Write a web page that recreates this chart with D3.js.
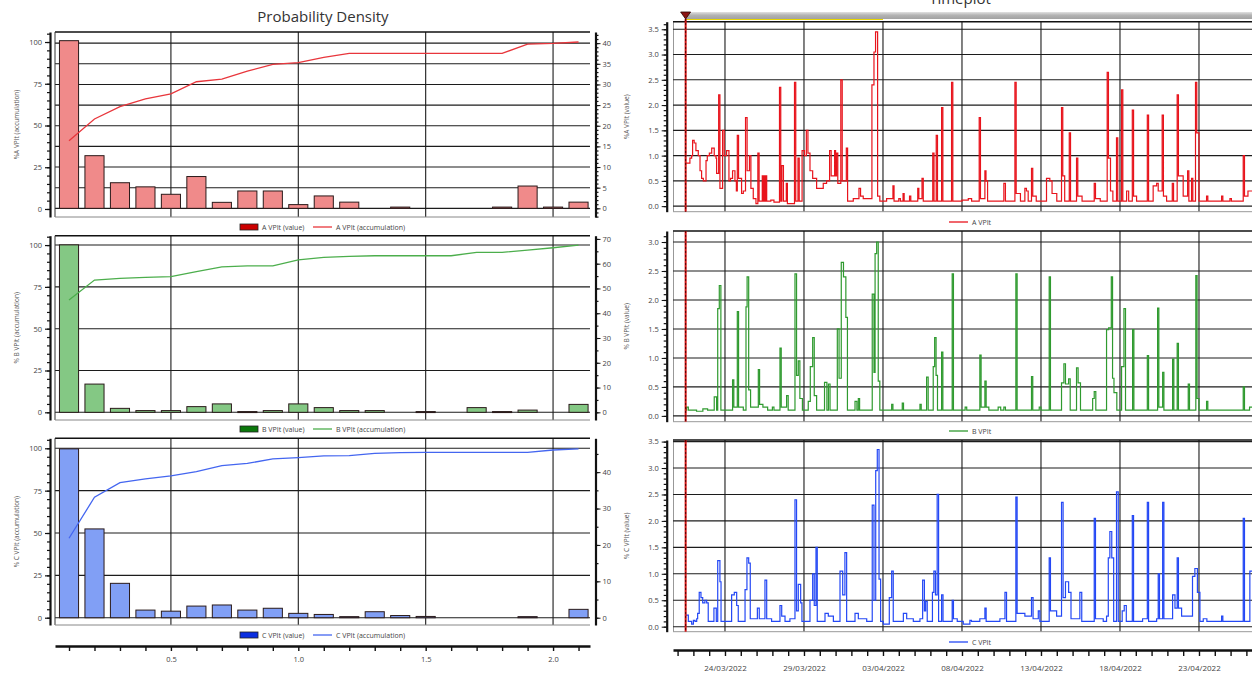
<!DOCTYPE html>
<html>
<head>
<meta charset="utf-8">
<script src="https://cdn.jsdelivr.net/npm/d3@7"></script>
<style>
  body { margin: 0; background: #fff; }
  text { font-family: "Open Sans", "DejaVu Sans", sans-serif; }
</style>
</head>
<body>
<div id="chart"></div>
<script>
// ---- probability density data (bin centre, % value, % accumulation)
var binCenters = [0.1, 0.2, 0.3, 0.4, 0.5, 0.6, 0.7, 0.8, 0.9, 1.0, 1.1, 1.2, 1.3, 1.4, 1.5, 1.6, 1.7, 1.8, 1.9, 2.0, 2.1];
var aValue = [40.6, 12.75, 6.2, 5.2, 3.4, 7.7, 1.45, 4.2, 4.2, 0.9, 3.0, 1.5, 0, 0.3, 0, 0, 0, 0.3, 5.4, 0.3, 1.5];
var aAccum = [40.9, 53.9, 61.3, 65.9, 68.9, 76.2, 77.8, 82.6, 86.6, 87.6, 90.8, 93.2, 93.2, 93.2, 93.2, 93.2, 93.2, 93.2, 98.8, 99.2, 100];
var bValue = [67.6, 11.4, 1.6, 0.7, 0.7, 2.3, 3.4, 0.3, 0.7, 3.4, 1.9, 0.7, 0.7, 0, 0.3, 0, 1.9, 0.3, 0.9, 0, 3.2];
var bAccum = [67.1, 79.1, 80.1, 80.7, 81.1, 84.1, 87.0, 87.5, 87.5, 91.2, 92.6, 93.2, 93.6, 93.6, 93.6, 93.6, 95.6, 95.6, 97.0, 98.4, 100];
var cValue = [46.4, 24.4, 9.45, 2.1, 1.8, 3.2, 3.5, 2.1, 2.6, 1.2, 0.9, 0.3, 1.65, 0.6, 0.35, 0, 0, 0, 0.3, 0, 2.3];
var cAccum = [46.9, 71.1, 79.7, 81.9, 83.7, 86.2, 89.8, 91.1, 93.7, 94.5, 95.5, 95.7, 97.0, 97.4, 97.6, 97.6, 97.6, 97.6, 97.6, 99.0, 99.6];
var densityTickLabels = [0.5, 1.0, 1.5, 2.0];
var accumTicks = [0, 25, 50, 75, 100];

// ---- timeplot data: [days since 21/03/2022 00:00, % value]
var seriesA = [[0.51,0.85],[0.78,0.95],[0.89,1.0],[0.95,1.3],[1.05,1.25],[1.16,1.1],[1.31,1.0],[1.42,0.7],[1.52,0.55],[1.63,0.5],[1.80,0.9],[1.88,1.0],[2.01,1.05],[2.16,1.15],[2.32,1.0],[2.43,0.95],[2.47,0.65],[2.60,2.2],[2.68,0.35],[2.85,1.5],[2.95,1.0],[3.10,1.1],[3.25,0.5],[3.35,0.55],[3.48,0.7],[3.63,0.5],[3.72,0.3],[3.78,1.4],[3.86,0.55],[4.05,0.25],[4.16,0.3],[4.30,1.75],[4.40,0.7],[4.55,1.0],[4.64,0.35],[4.79,0.15],[4.96,0.05],[5.08,1.05],[5.16,0.1],[5.36,0.6],[5.42,0.1],[5.47,0.6],[5.53,0.1],[5.58,0.6],[5.64,0.1],[5.9,0.12],[6.1,0.08],[6.45,2.35],[6.53,0.1],[6.60,0.8],[6.70,0.1],[6.88,0.45],[6.95,0.05],[7.40,2.45],[7.48,0.1],[7.62,0.95],[7.70,0.1],[7.88,1.1],[8.03,1.0],[8.15,1.5],[8.25,1.05],[8.38,0.7],[8.55,0.55],[8.80,0.35],[9.22,0.45],[9.43,0.5],[9.62,1.1],[9.72,0.6],[9.94,1.1],[10.0,0.6],[10.06,1.05],[10.14,0.45],[10.33,2.5],[10.42,0.5],[10.68,1.15],[10.76,0.1],[11.12,0.15],[11.48,0.35],[11.58,0.2],[11.75,0.15],[12.30,2.4],[12.43,3.05],[12.53,3.45],[12.66,0.2],[12.80,0.1],[13.23,0.15],[13.63,0.4],[13.70,0.1],[14.0,0.15],[14.1,0.1],[14.27,0.25],[14.34,0.1],[14.68,0.2],[14.76,0.1],[15.2,0.35],[15.27,0.15],[15.47,0.55],[15.55,0.1],[16.15,1.05],[16.23,0.1],[16.37,1.4],[16.45,0.1],[16.71,1.95],[16.79,0.1],[17.34,2.45],[17.42,0.1],[18.0,0.12],[18.40,0.15],[18.61,0.1],[19.09,1.75],[19.17,0.15],[19.45,0.7],[19.52,0.5],[19.62,0.1],[20.65,0.45],[20.75,0.1],[21.35,2.45],[21.43,0.25],[21.70,0.1],[21.98,0.35],[22.08,0.3],[22.19,0.1],[22.40,0.75],[22.48,0.2],[22.70,0.1],[23.35,0.55],[23.56,0.5],[23.70,0.25],[24.00,0.1],[24.30,1.95],[24.38,0.6],[24.50,0.1],[24.79,1.45],[24.87,0.1],[25.25,0.95],[25.33,0.2],[25.60,0.1],[26.37,0.45],[26.45,0.15],[26.75,0.1],[27.19,2.65],[27.27,0.95],[27.40,0.3],[27.55,0.1],[27.78,1.35],[27.86,0.1],[28.10,2.3],[28.18,0.1],[28.42,0.3],[28.55,0.1],[28.78,1.9],[28.86,0.2],[29.05,0.1],[29.73,1.8],[29.81,0.1],[30.10,0.4],[30.32,0.45],[30.42,0.3],[30.67,1.8],[30.75,0.2],[30.95,0.1],[31.31,0.45],[31.39,0.1],[31.62,2.2],[31.70,0.6],[32.00,0.2],[32.28,0.7],[32.36,0.1],[32.53,0.55],[32.61,0.1],[32.78,2.45],[32.86,1.45],[33.00,0.1],[33.48,0.2],[33.56,0.1],[34.43,0.2],[34.51,0.1],[34.96,0.15],[35.05,0.1],[35.80,1.0],[35.88,0.2],[36.10,0.3],[36.4,0.2],[37.0,0.2]];

var seriesB = [[0.51,0.1],[0.57,0.15],[0.68,0.1],[1.2,0.08],[1.6,0.12],[1.9,0.1],[2.32,0.33],[2.47,0.1],[2.54,1.85],[2.64,2.25],[2.74,0.1],[3.48,0.62],[3.56,0.15],[3.78,1.8],[3.86,0.15],[4.16,0.1],[4.33,1.88],[4.40,2.4],[4.50,0.45],[4.62,0.15],[5.11,0.8],[5.19,0.2],[5.40,0.15],[5.7,0.1],[6.0,0.15],[6.1,0.1],[6.48,1.17],[6.56,0.15],[6.90,0.35],[7.0,0.1],[7.43,2.45],[7.53,0.7],[7.64,0.95],[7.74,0.3],[7.90,0.1],[8.27,0.25],[8.40,0.85],[8.55,1.35],[8.65,0.35],[8.80,0.1],[9.30,0.58],[9.45,0.1],[9.55,0.55],[9.65,0.1],[10.11,1.5],[10.22,0.65],[10.36,2.65],[10.50,2.4],[10.65,1.7],[10.75,0.1],[11.23,0.25],[11.35,0.1],[11.44,0.3],[11.52,0.1],[12.32,2.1],[12.43,0.75],[12.50,2.8],[12.60,3.0],[12.70,0.6],[12.80,0.1],[13.55,0.2],[13.63,0.1],[14.22,0.22],[14.30,0.1],[15.34,0.2],[15.42,0.1],[15.76,0.67],[15.86,0.1],[16.18,0.85],[16.27,1.35],[16.36,0.7],[16.45,0.1],[16.71,1.1],[16.79,0.1],[17.38,2.45],[17.46,0.1],[18.2,0.15],[18.3,0.1],[19.13,1.05],[19.21,0.15],[19.45,0.6],[19.53,0.15],[19.7,0.1],[20.29,0.15],[20.45,0.1],[20.65,0.15],[20.75,0.1],[21.41,2.45],[21.49,0.1],[22.40,0.68],[22.48,0.1],[22.89,0.15],[23.0,0.1],[23.52,2.4],[23.60,0.1],[24.30,0.57],[24.45,0.9],[24.55,0.55],[24.75,0.64],[24.85,0.1],[25.25,0.83],[25.35,0.57],[25.50,0.1],[26.27,0.3],[26.37,0.42],[26.47,0.1],[27.15,1.49],[27.28,1.52],[27.45,2.4],[27.53,0.65],[27.62,0.4],[27.80,0.1],[28.10,0.85],[28.25,1.85],[28.35,0.1],[28.80,1.49],[28.88,0.1],[29.73,1.04],[29.81,0.1],[30.38,1.86],[30.46,0.15],[30.70,0.75],[30.78,0.1],[31.33,0.98],[31.41,0.1],[31.62,1.25],[31.70,0.1],[32.32,0.55],[32.40,0.1],[32.80,2.42],[32.88,0.3],[33.0,0.1],[33.48,0.25],[33.56,0.1],[35.80,0.5],[35.88,0.1],[36.2,0.15],[36.4,0.1],[37.0,0.1]];

var seriesC = [[0.51,0.22],[0.68,0.1],[0.89,0.05],[1.0,0.12],[1.10,0.1],[1.21,0.15],[1.27,0.25],[1.37,0.65],[1.48,0.55],[1.59,0.45],[1.73,0.5],[1.84,0.45],[1.94,0.1],[2.30,0.35],[2.45,0.1],[2.54,1.25],[2.68,0.85],[2.75,0.1],[3.42,0.6],[3.59,0.65],[3.74,0.4],[3.84,0.1],[4.27,0.7],[4.39,1.3],[4.50,1.2],[4.60,0.15],[5.05,0.35],[5.17,0.15],[5.53,0.88],[5.64,0.15],[5.95,0.1],[6.48,0.4],[6.59,0.2],[6.80,0.1],[7.11,0.15],[7.43,2.4],[7.53,0.3],[7.64,0.8],[7.79,0.45],[7.87,0.1],[8.38,0.5],[8.55,1.0],[8.65,0.4],[8.76,1.5],[8.84,0.1],[9.33,0.25],[9.54,0.2],[9.86,0.1],[10.28,1.05],[10.45,0.6],[10.59,1.4],[10.70,0.1],[11.23,0.25],[11.44,0.15],[11.97,0.1],[12.32,2.3],[12.43,0.5],[12.54,2.95],[12.64,3.35],[12.75,0.9],[12.85,0.1],[13.02,0.05],[13.40,0.55],[13.55,1.05],[13.65,0.1],[14.29,0.25],[14.50,0.15],[14.92,0.1],[15.34,0.15],[15.51,0.88],[15.62,0.3],[15.70,0.48],[15.80,0.1],[16.13,0.65],[16.22,1.05],[16.32,0.6],[16.43,2.5],[16.52,0.1],[16.71,0.6],[16.80,0.1],[17.38,0.5],[17.46,0.15],[17.7,0.1],[18.08,0.05],[18.50,0.12],[18.6,0.1],[19.13,0.15],[19.45,0.35],[19.53,0.1],[20.40,0.15],[20.72,0.65],[20.82,0.1],[21.41,2.45],[21.49,0.25],[21.98,0.2],[22.40,0.55],[22.50,0.15],[22.83,0.3],[22.93,0.1],[23.52,1.3],[23.60,0.3],[23.99,0.2],[24.30,2.35],[24.40,0.55],[24.55,0.85],[24.75,0.65],[24.90,0.15],[25.46,0.65],[25.58,0.1],[26.37,2.05],[26.45,0.15],[26.94,0.1],[27.15,0.2],[27.26,1.3],[27.36,1.8],[27.48,1.3],[27.60,0.1],[27.78,2.55],[27.89,0.1],[28.14,0.3],[28.27,0.4],[28.40,0.1],[28.78,2.1],[28.86,0.1],[29.43,0.15],[29.73,2.35],[29.81,0.1],[30.32,0.15],[30.42,1.0],[30.50,0.15],[30.70,2.35],[30.78,0.15],[31.33,0.6],[31.48,0.35],[31.62,1.3],[31.70,0.35],[31.90,0.2],[32.32,0.2],[32.59,0.95],[32.74,1.1],[32.90,0.65],[33.06,0.1],[33.27,0.15],[33.5,0.1],[34.43,0.2],[34.51,0.1],[35.80,2.05],[35.88,0.1],[36.22,1.05],[36.4,0.3],[37.0,0.3]];

var dateLabels = ["24/03/2022", "29/03/2022", "03/04/2022", "08/04/2022", "13/04/2022", "18/04/2022", "23/04/2022"];
var markerDay = 0.51;

// ---- layout
var svgWidth = 1252;
var svgHeight = 675;

var svg = d3.select("#chart")
  .append("svg")
  .attr("width", svgWidth)
  .attr("height", svgHeight);

var gridColor = "#1c1c1c";

function styleAxis(g, fontSize) {
  g.selectAll("text").style("font-size", fontSize + "px").attr("fill", "#444");
  g.selectAll(".tick line").attr("stroke", "#111");
  g.select(".domain").attr("stroke", "#111");
}

// ================= Probability Density =================
svg.append("text")
  .attr("x", 323).attr("y", 22)
  .attr("text-anchor", "middle")
  .style("font-size", "15px")
  .attr("fill", "#333")
  .text("Probability Density");

var xBin = d3.scaleLinear().domain([0.045, 2.145]).range([55, 590]);
var barW = xBin(0.075) - xBin(0);

var densityPanels = [
  { name: "A VPIt", values: aValue, accum: aAccum, top: 32, bottom: 217,
    leftDomain: [-4.8, 106], rightDomain: [-2.1, 42.7], rightMajor: 5, rightMinor: 1, rightMax: 40,
    gridOnRight: true, fill: "#f08a8a", line: "#e8363c", key: "#cc0000",
    legendY: 227, label: "%A VPIt (accumulation)" },
  { name: "B VPIt", values: bValue, accum: bAccum, top: 235.7, bottom: 420,
    leftDomain: [-4.6, 105.6], rightDomain: [-3.1, 71.3], rightMajor: 10, rightMinor: 5, rightMax: 70,
    gridOnRight: false, fill: "#84c884", line: "#4cae4c", key: "#0b780b",
    legendY: 429, label: "% B VPIt (accumulation)" },
  { name: "C VPIt", values: cValue, accum: cAccum, top: 438.3, bottom: 625,
    leftDomain: [-4.3, 105.9], rightDomain: [-2.0, 49.3], rightMajor: 10, rightMinor: 5, rightMax: 45,
    gridOnRight: false, fill: "#819ff5", line: "#4466f0", key: "#0a2ee0",
    legendY: 635, label: "% C VPIt (accumulation)" }
];

densityPanels.forEach(function(p) {
  var yL = d3.scaleLinear().domain(p.leftDomain).range([p.bottom, p.top]);
  var yR = d3.scaleLinear().domain(p.rightDomain).range([p.bottom, p.top]);
  var g = svg.append("g");

  // horizontal grid
  var gridVals = p.gridOnRight ? d3.range(0, p.rightMax + 0.01, p.rightMajor).map(yR) : accumTicks.map(yL);
  g.selectAll("line.hgrid").data(gridVals).enter().append("line")
    .attr("x1", 55).attr("x2", 590)
    .attr("y1", d => d).attr("y2", d => d)
    .attr("stroke", gridColor).attr("stroke-width", 1.1);

  // vertical grid
  g.selectAll("line.vgrid").data(densityTickLabels).enter().append("line")
    .attr("x1", d => xBin(d)).attr("x2", d => xBin(d))
    .attr("y1", p.top).attr("y2", p.bottom)
    .attr("stroke", gridColor).attr("stroke-width", 1.1);

  // frame
  g.append("line").attr("x1", 55).attr("x2", 590).attr("y1", p.top).attr("y2", p.top)
    .attr("stroke", "#111").attr("stroke-width", 1.6);
  g.append("line").attr("x1", 55).attr("x2", 55).attr("y1", p.top).attr("y2", p.bottom)
    .attr("stroke", "#333").attr("stroke-width", 1);
  g.append("line").attr("x1", 55).attr("x2", 590).attr("y1", p.bottom).attr("y2", p.bottom)
    .attr("stroke", "#888").attr("stroke-width", 1);

  // bars (value, right axis)
  var bins = binCenters.map(function(c, i) { return { c: c, v: p.values[i], a: p.accum[i] }; });
  g.selectAll("rect.bar").data(bins.filter(d => d.v > 0)).enter().append("rect")
    .attr("x", d => xBin(d.c) - barW / 2)
    .attr("width", barW)
    .attr("y", d => yR(d.v))
    .attr("height", d => Math.max(yR(0) - yR(d.v), 1))
    .attr("fill", p.fill)
    .attr("stroke", "#2a1a1a").attr("stroke-width", 1);

  // accumulation line (left axis)
  var accLine = d3.line().x(d => xBin(d.c)).y(d => yL(d.a));
  g.append("path").datum(bins)
    .attr("d", accLine)
    .attr("fill", "none").attr("stroke", p.line).attr("stroke-width", 1.3);

  // left axis
  var leftMinor = d3.range(Math.ceil(p.leftDomain[0] / 5) * 5, p.leftDomain[1], 5);
  var lm = g.append("g").attr("transform", "translate(50,0)")
    .call(d3.axisLeft(yL).tickValues(leftMinor).tickSize(3).tickSizeOuter(0).tickFormat(""));
  lm.select(".domain").attr("stroke", "#111").attr("stroke-width", 2.2);
  lm.selectAll(".tick line").attr("stroke", "#111").attr("stroke-width", 1.2);
  var la = g.append("g").attr("transform", "translate(50,0)")
    .call(d3.axisLeft(yL).tickValues(accumTicks).tickSize(5).tickSizeOuter(0).tickPadding(3));
  la.select(".domain").remove();
  styleAxis(la, 7.5);
  la.selectAll(".tick line").attr("stroke-width", 1.2);

  // right axis
  var rightMinor = d3.range(Math.ceil(p.rightDomain[0] / p.rightMinor) * p.rightMinor, p.rightDomain[1], p.rightMinor);
  var rm = g.append("g").attr("transform", "translate(595.5,0)")
    .call(d3.axisRight(yR).tickValues(rightMinor).tickSize(3).tickSizeOuter(0).tickFormat(""));
  rm.select(".domain").attr("stroke", "#111").attr("stroke-width", 2.2);
  rm.selectAll(".tick line").attr("stroke", "#111").attr("stroke-width", 1.2);
  var ra = g.append("g").attr("transform", "translate(595.5,0)")
    .call(d3.axisRight(yR).tickValues(d3.range(0, p.rightMax + 0.01, p.rightMajor)).tickSize(5).tickSizeOuter(0).tickPadding(2));
  ra.select(".domain").remove();
  styleAxis(ra, 7.5);

  // axis label
  g.append("text")
    .attr("transform", "translate(19," + ((p.top + p.bottom) / 2) + ") rotate(-90)")
    .attr("text-anchor", "middle")
    .style("font-size", "6.5px").attr("fill", "#555")
    .text(p.label);

  // legend
  var lg = g.append("g").attr("transform", "translate(0," + p.legendY + ")");
  lg.append("rect").attr("x", 240).attr("y", -3).attr("width", 18).attr("height", 6)
    .attr("fill", p.key).attr("stroke", "#222").attr("stroke-width", 0.8);
  lg.append("text").attr("x", 262).attr("y", 2.5).style("font-size", "7px").attr("fill", "#444")
    .text(p.name + " (value)");
  lg.append("line").attr("x1", 313).attr("x2", 332).attr("y1", 0).attr("y2", 0)
    .attr("stroke", p.line).attr("stroke-width", 1.3);
  lg.append("text").attr("x", 336).attr("y", 2.5).style("font-size", "7px").attr("fill", "#444")
    .text(p.name + " (accumulation)");
});

// shared x axis of the density panels
var binAxis = svg.append("g").attr("transform", "translate(0,646)")
  .call(d3.axisBottom(xBin).tickValues(binCenters).tickSize(5).tickSizeOuter(0).tickPadding(6)
    .tickFormat(function(d) {
      return densityTickLabels.some(t => Math.abs(t - d) < 1e-6) ? d3.format(".1f")(d) : "";
    }));
binAxis.select(".domain").attr("stroke", "#111").attr("stroke-width", 2.4);
binAxis.selectAll(".tick line").attr("stroke", "#111").attr("stroke-width", 1.4);
styleAxis(binAxis, 7.5);
binAxis.select(".domain").attr("stroke-width", 2.4);

// ================= Timeplot =================
var t0 = Date.UTC(2022, 2, 21);
function dayToDate(d) { return new Date(t0 + d * 864e5); }
var parseLabel = d3.utcParse("%d/%m/%Y");
var fmtLabel = d3.utcFormat("%d/%m/%Y");

var xTime = d3.scaleUtc()
  .domain([dayToDate(-0.29), dayToDate(37)])
  .range([673, 673 + 37.29 * 15.8]);
var labelDates = dateLabels.map(parseLabel);

svg.append("text")
  .attr("x", 960).attr("y", 4)
  .attr("text-anchor", "middle")
  .style("font-size", "15px")
  .attr("fill", "#333")
  .text("Timeplot");

// scroll bar on top
var defs = svg.append("defs");
var grad = defs.append("linearGradient").attr("id", "scrollGrad").attr("x1", 0).attr("y1", 0).attr("x2", 0).attr("y2", 1);
grad.append("stop").attr("offset", "0%").attr("stop-color", "#e2e2e2");
grad.append("stop").attr("offset", "45%").attr("stop-color", "#b4b4b4");
grad.append("stop").attr("offset", "100%").attr("stop-color", "#a2a2a2");
var markerX = xTime(dayToDate(markerDay));
svg.append("rect").attr("x", markerX).attr("y", 12).attr("width", svgWidth - markerX).attr("height", 7)
  .attr("fill", "url(#scrollGrad)");
svg.append("line").attr("x1", markerX).attr("x2", 883).attr("y1", 19.5).attr("y2", 19.5)
  .attr("stroke", "#e8d600").attr("stroke-width", 1);

var clip = defs.append("clipPath").attr("id", "timeClip");
clip.append("rect").attr("x", 673).attr("y", 0).attr("width", svgWidth - 673).attr("height", svgHeight);

var timePanels = [
  { data: seriesA, top: 21.7, bottom: 211.7, domain: [-0.11, 3.65], max: 3.5, color: "#e8141c",
    name: "A VPIt", label: "%A VPIt (value)", legendY: 222 },
  { data: seriesB, top: 231, bottom: 421.7, domain: [-0.1, 3.19], max: 3.0, color: "#2f9a2f",
    name: "B VPIt", label: "% B VPIt (value)", legendY: 431 },
  { data: seriesC, top: 440, bottom: 631.7, domain: [-0.095, 3.53], max: 3.5, color: "#2448f5",
    name: "C VPIt", label: "% C VPIt (value)", legendY: 642 }
];

timePanels.forEach(function(p, pi) {
  var y = d3.scaleLinear().domain(p.domain).range([p.bottom, p.top]);
  var g = svg.append("g");
  var majors = d3.range(0, p.max + 0.001, 0.5);

  var grid = g.append("g").attr("clip-path", "url(#timeClip)");
  grid.selectAll("line.h").data(majors).enter().append("line")
    .attr("x1", 673).attr("x2", svgWidth)
    .attr("y1", d => y(d)).attr("y2", d => y(d))
    .attr("stroke", gridColor).attr("stroke-width", 1.1);
  grid.selectAll("line.v").data(labelDates).enter().append("line")
    .attr("x1", d => xTime(d)).attr("x2", d => xTime(d))
    .attr("y1", p.top).attr("y2", p.bottom)
    .attr("stroke", gridColor).attr("stroke-width", 1.1);
  grid.append("line").attr("x1", 673).attr("x2", svgWidth).attr("y1", p.top).attr("y2", p.top)
    .attr("stroke", "#111").attr("stroke-width", 1.6);
  grid.append("line").attr("x1", 673).attr("x2", 673).attr("y1", p.top).attr("y2", p.bottom)
    .attr("stroke", "#333").attr("stroke-width", 1);
  grid.append("line").attr("x1", 673).attr("x2", svgWidth).attr("y1", p.bottom).attr("y2", p.bottom)
    .attr("stroke", "#999").attr("stroke-width", 1);

  var stepLine = d3.line()
    .curve(d3.curveStepAfter)
    .x(d => xTime(dayToDate(d[0])))
    .y(d => y(d[1]));
  grid.append("path").datum(p.data)
    .attr("d", stepLine)
    .attr("fill", "none").attr("stroke", p.color).attr("stroke-width", 1.2)
    .attr("stroke-linejoin", "miter");

  // red dashed cursor
  var cy1 = pi === 0 ? 19 : p.top;
  g.append("line").attr("x1", markerX).attr("x2", markerX).attr("y1", cy1).attr("y2", p.bottom)
    .attr("stroke", "#d01010").attr("stroke-width", 2);
  g.append("line").attr("x1", markerX).attr("x2", markerX).attr("y1", cy1).attr("y2", p.bottom)
    .attr("stroke", "#300").attr("stroke-width", 0.8).attr("stroke-dasharray", "2,2");

  // left axis
  var minor = d3.range(0, p.domain[1], 0.1);
  var am = g.append("g").attr("transform", "translate(666.7,0)")
    .call(d3.axisLeft(y).tickValues(minor).tickSize(3).tickSizeOuter(0).tickFormat(""));
  am.select(".domain").attr("stroke", "#111").attr("stroke-width", 2.2);
  am.selectAll(".tick line").attr("stroke", "#111").attr("stroke-width", 1.2);
  var aj = g.append("g").attr("transform", "translate(666.7,0)")
    .call(d3.axisLeft(y).tickValues(majors).tickSize(5).tickSizeOuter(0).tickPadding(3).tickFormat(d3.format(".1f")));
  aj.select(".domain").remove();
  styleAxis(aj, 7.5);

  g.append("text")
    .attr("transform", "translate(629," + ((p.top + p.bottom) / 2) + ") rotate(-90)")
    .attr("text-anchor", "middle")
    .style("font-size", "6.5px").attr("fill", "#555")
    .text(p.label);

  // legend
  g.append("line").attr("x1", 949).attr("x2", 968).attr("y1", p.legendY).attr("y2", p.legendY)
    .attr("stroke", p.color).attr("stroke-width", 1.3);
  g.append("text").attr("x", 972).attr("y", p.legendY + 2.5)
    .style("font-size", "7px").attr("fill", "#444").text(p.name);
});

// marker triangle
svg.append("path")
  .attr("d", "M" + (markerX - 5) + ",12 L" + (markerX + 5) + ",12 L" + markerX + ",19 Z")
  .attr("fill", "#8c1414").attr("stroke", "#2a0000").attr("stroke-width", 0.8);

// shared time axis
var dayTicks = d3.range(0, 37).map(dayToDate);
var timeAxis = svg.append("g").attr("transform", "translate(0,650)")
  .call(d3.axisBottom(xTime).tickValues(dayTicks).tickSize(6).tickSizeOuter(0).tickPadding(9)
    .tickFormat(function(d) {
      var s = fmtLabel(d);
      return dateLabels.indexOf(s) >= 0 ? s : "";
    }));
timeAxis.select(".domain").attr("stroke", "#111").attr("stroke-width", 2.4);
timeAxis.selectAll(".tick line").attr("stroke", "#111").attr("stroke-width", 1.4);
styleAxis(timeAxis, 8);
timeAxis.select(".domain").attr("stroke-width", 2.4);
timeAxis.selectAll("text").style("font-size", "8px");
</script>
</body>
</html>
